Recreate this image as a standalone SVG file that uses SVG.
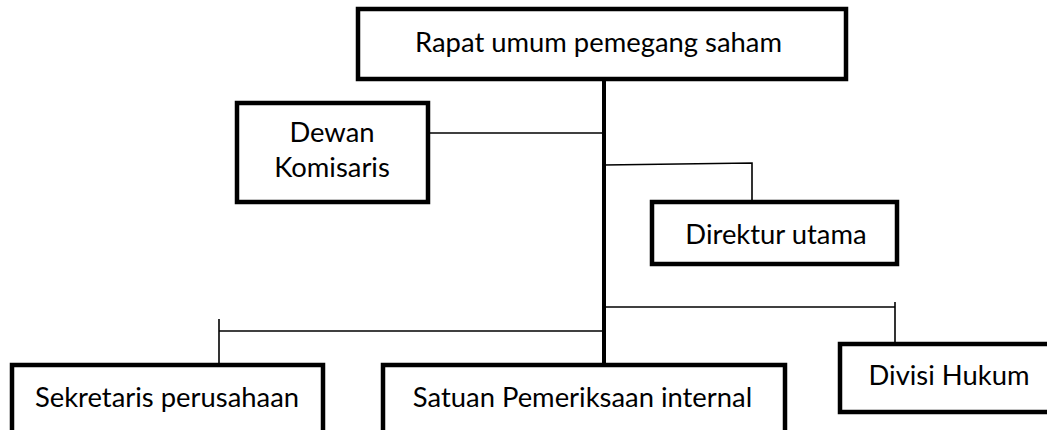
<svg xmlns="http://www.w3.org/2000/svg" width="1047" height="430" viewBox="0 0 1047 430">
<style>
.box{fill:#fff;stroke:#000;stroke-width:4.5}
.t{font-family:Lato,"Liberation Sans",sans-serif;font-size:27.4px;fill:#000;text-anchor:middle}
.c{stroke:#000;stroke-width:1.6;fill:none}
.trunk{stroke:#000;stroke-width:4;fill:none}
</style>
<rect width="1047" height="430" fill="#fff"/>
<g id="connectors">
<line class="trunk" x1="604" y1="79" x2="604" y2="366"/>
<line class="c" x1="430" y1="133" x2="604" y2="133"/>
<polyline class="c" points="604,165 752,163 752,202"/>
<polyline class="c" points="604,331 219,331"/>
<line class="c" x1="219" y1="319" x2="219" y2="365"/>
<polyline class="c" points="604,307 895,307"/>
<line class="c" x1="895" y1="302" x2="895" y2="344"/>
</g>
<g id="rups"><rect class="box" x="358" y="9" width="488" height="70"/><text class="t" x="598.5" y="52">Rapat umum pemegang saham</text></g>
<g id="dewan"><rect class="box" x="237" y="103" width="191" height="99"/><text class="t" x="332" y="142">Dewan</text><text class="t" x="332" y="177">Komisaris</text></g>
<g id="direktur"><rect class="box" x="652" y="202" width="245" height="62"/><text class="t" x="776" y="244">Direktur utama</text></g>
<g id="sekretaris"><rect class="box" x="12" y="365" width="311" height="80"/><text class="t" x="167" y="407">Sekretaris perusahaan</text></g>
<g id="spi"><rect class="box" x="383" y="365" width="402" height="80"/><text class="t" x="582.5" y="407">Satuan Pemeriksaan internal</text></g>
<g id="hukum"><rect class="box" x="840" y="344" width="230" height="68"/><text class="t" x="949" y="385">Divisi Hukum</text></g>
</svg>
